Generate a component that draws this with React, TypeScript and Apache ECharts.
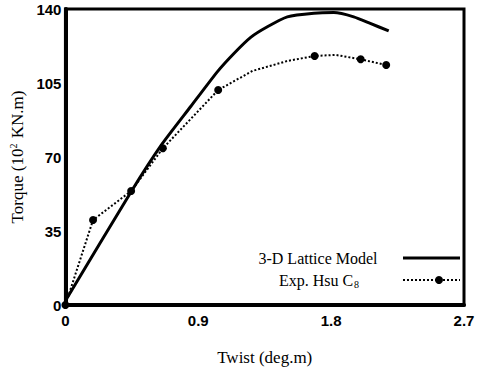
import React, { useEffect, useRef } from "react";
import * as echarts from "echarts";

const modelX = [0, 0.445, 0.648, 0.85, 1.03, 1.143, 1.255, 1.368, 1.503, 1.683, 1.818, 1.953, 2.065, 2.19];
const modelY = [2, 53.6, 75.5, 94, 110.4, 119.1, 126.6, 131.6, 136.3, 138, 138.3, 136.3, 133.2, 129.6];

const expX = [0, 0.187, 0.445, 0.66, 1.035, 1.267, 1.503, 1.688, 1.83, 2.0, 2.173];
const expY = [0, 40.2, 53.9, 74.1, 101.7, 110.7, 115.4, 117.8, 118.3, 116.2, 113.5];
const expMarker = [1, 1, 1, 1, 1, 0, 0, 1, 0, 1, 1];

const xTicks = { min: 0, max: 2.7, interval: 0.9 };
const yTicks = { min: 0, max: 140, interval: 35 };

const modelName = "3-D Lattice Model";
const expName = "Exp. Hsu C";

export default function App() {
  const ref = useRef<HTMLDivElement>(null);
  useEffect(() => {
    if (!ref.current) return;
    document.body.style.margin = "0";
    const chart = echarts.init(ref.current, null, { renderer: "svg" });
    const serif = "Liberation Serif";
    const sans = "Liberation Sans";
    chart.setOption({
      animation: false,
      backgroundColor: "#fff",
      grid: {
        left: 64, right: 17, top: 9, bottom: 67,
        show: true, borderColor: "#000", borderWidth: 3,
      },
      xAxis: {
        type: "value",
        ...xTicks,
        name: "Twist (deg.m)",
        nameLocation: "middle",
        nameGap: 44,
        nameTextStyle: { fontFamily: serif, fontSize: 17, color: "#000" },
        axisLine: { show: true, onZero: false, lineStyle: { color: "#000", width: 4 } },
        axisTick: { show: false },
        splitLine: { show: false },
        axisLabel: { fontFamily: sans, fontWeight: "bold", fontSize: 15, color: "#000", margin: 8 },
      },
      yAxis: {
        type: "value",
        ...yTicks,
        name: "Torque (10{sup|2} KN.m)",
        nameLocation: "middle",
        nameGap: 39,
        nameTextStyle: {
          fontFamily: serif, fontSize: 17, color: "#000",
          rich: { sup: { fontFamily: serif, fontSize: 10, color: "#000", verticalAlign: "top", padding: [0, 1, 8, 0] } },
        },
        axisLine: { show: true, onZero: false, lineStyle: { color: "#000", width: 4 } },
        axisTick: { show: false },
        splitLine: { show: false },
        axisLabel: { fontFamily: sans, fontWeight: "bold", fontSize: 15, color: "#000", margin: 4, padding: [8, 0, 0, 0] },
      },
      series: [
        {
          name: modelName,
          type: "line",
          smooth: 0.2,
          showSymbol: false,
          symbol: "none",
          lineStyle: { color: "#000", width: 3 },
          data: modelX.map((x, i) => [x, modelY[i]]),
        },
        {
          name: expName,
          type: "line",
          symbol: "circle",
          symbolSize: 8,
          itemStyle: { color: "#000" },
          lineStyle: { color: "#000", width: 2, type: [2, 2] },
          data: expX.map((x, i) => ({
            value: [x, expY[i]],
            symbol: expMarker[i] ? "circle" : "none",
          })),
        },
      ],
      graphic: [
        {
          type: "text",
          x: 318, y: 258,
          style: { text: modelName, fontFamily: serif, fontSize: 16, fill: "#000", align: "center", verticalAlign: "middle" },
        },
        {
          type: "line",
          shape: { x1: 403, y1: 258, x2: 460, y2: 258 },
          style: { stroke: "#000", lineWidth: 3 },
        },
        {
          type: "text",
          x: 319, y: 280,
          style: {
            text: expName + "{sub|8}",
            rich: { sub: { fontFamily: serif, fontSize: 10, fill: "#000", padding: [8, 0, 0, 1] } },
            fontFamily: serif, fontSize: 16, fill: "#000", align: "center", verticalAlign: "middle",
          },
        },
        {
          type: "line",
          shape: { x1: 403, y1: 280, x2: 460, y2: 280 },
          style: { stroke: "#000", lineWidth: 2, lineDash: [2, 2] },
        },
        {
          type: "circle",
          shape: { cx: 439, cy: 280, r: 4 },
          style: { fill: "#000" },
        },
      ],
    });
    return () => chart.dispose();
  }, []);
  return <div ref={ref} style={{ width: 481, height: 372 }} />;
}
